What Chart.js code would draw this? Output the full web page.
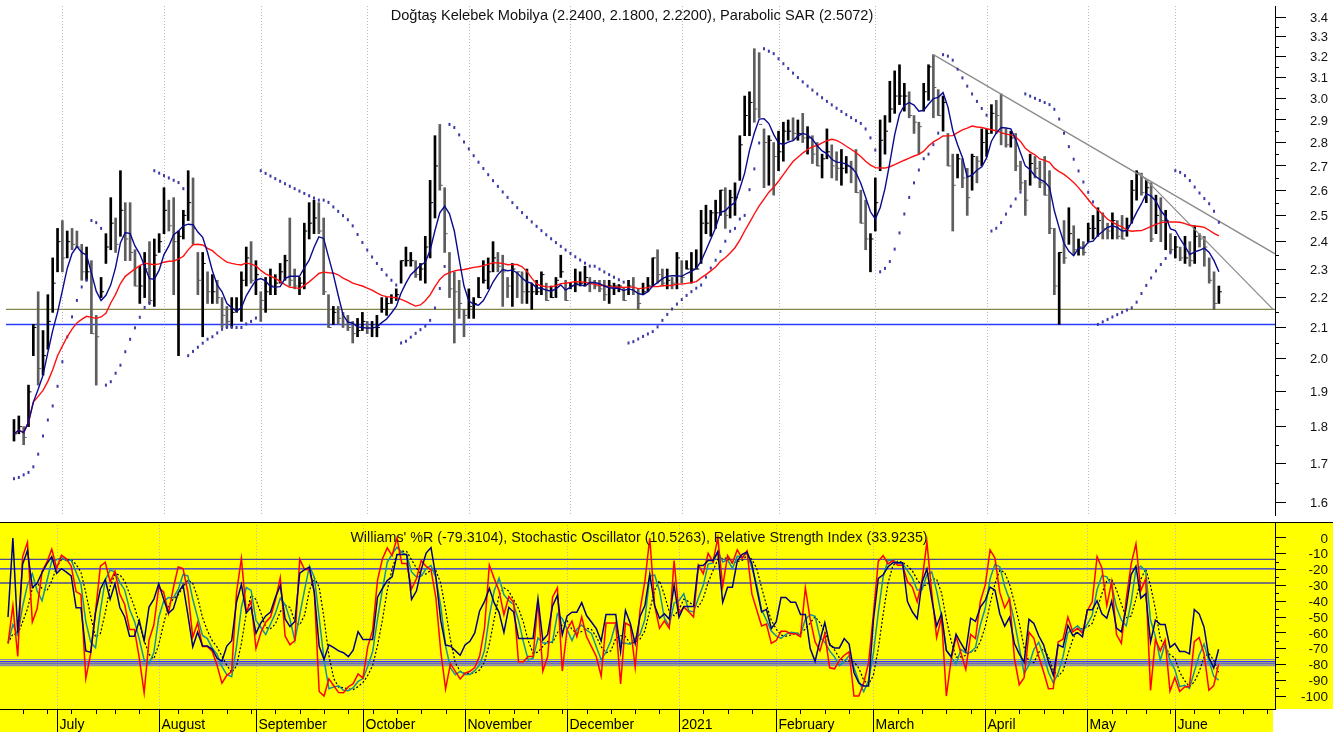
<!DOCTYPE html>
<html>
<head>
<meta charset="utf-8">
<script src="https://cdn.jsdelivr.net/npm/chart.js@4.4.1/dist/chart.umd.min.js"></script>
<style>
  html, body { margin: 0; padding: 0; background: #fff; }
  #wrap { position: relative; width: 1341px; height: 736px; overflow: hidden; }
  canvas { position: absolute; left: 0; display: block; }
  #priceChart { top: 0; }
  #oscChart { top: 521px; }
</style>
</head>
<body>
<div id="wrap">
  <canvas id="priceChart" width="1341" height="521"></canvas>
  <canvas id="oscChart" width="1341" height="215"></canvas>
</div>
<script>
"use strict";

// Daily bars, 17 Jun 2020 .. 14 Jun 2021
const HIGHS = [
  1.82,1.83,1.80,1.92,2.11,2.22,2.09,2.21,2.34,2.45, 2.48,2.44,2.45,2.44,2.39,2.38,2.33,2.14,2.27,2.43,
  2.57,2.49,2.68,2.55,2.55,2.37,2.31,2.36,2.40,2.41, 2.43,2.61,2.56,2.57,2.44,2.52,2.68,2.65,2.36,2.36,
  2.29,2.28,2.26,2.20,2.17,2.20,2.20,2.29,2.38,2.40, 2.33,2.22,2.27,2.30,2.28,2.32,2.35,2.49,2.30,2.27,
  2.47,2.55,2.56,2.55,2.49,2.21,2.17,2.17,2.15,2.14, 2.12,2.13,2.15,2.12,2.12,2.14,2.20,2.20,2.21,2.23,
  2.33,2.38,2.36,2.33,2.32,2.42,2.64,2.83,2.88,2.61, 2.36,2.29,2.26,2.16,2.23,2.20,2.27,2.33,2.34,2.40,
  2.36,2.35,2.27,2.32,2.29,2.29,2.30,2.25,2.26,2.29, 2.25,2.24,2.27,2.35,2.26,2.25,2.30,2.29,2.31,2.27,
  2.26,2.26,2.26,2.26,2.25,2.245,2.235,2.26,2.27,2.23, 2.25,2.27,2.34,2.37,2.30,2.30,2.27,2.36,2.33,2.33,
  2.36,2.37,2.52,2.54,2.52,2.56,2.60,2.61,2.60,2.63, 2.83,3.01,3.03,3.24,3.22,2.86,2.83,2.80,2.85,2.89,
  2.90,2.91,2.90,2.93,2.87,2.83,2.80,2.75,2.86,2.79, 2.76,2.77,2.74,2.72,2.77,2.60,2.56,2.43,2.65,2.90,
  2.92,3.08,3.13,3.16,3.07,3.03,2.92,2.89,3.07,3.16, 3.21,3.04,3.01,2.84,2.75,2.75,2.73,2.69,2.75,2.74,
  2.86,2.86,2.97,2.99,3.02,2.86,2.85,2.84,2.72,2.64, 2.75,2.74,2.72,2.74,2.68,2.45,2.36,2.48,2.53,2.46,
  2.41,2.40,2.47,2.50,2.53,2.51,2.47,2.51,2.48,2.50, 2.49,2.64,2.68,2.67,2.64,2.63,2.58,2.57,2.52,2.43,
  2.42,2.38,2.42,2.40,2.46,2.43,2.42,2.34,2.29,2.24
];
const LOWS = [
  1.76,1.78,1.75,1.80,2.01,1.92,1.95,2.03,2.15,2.29, 2.29,2.34,2.37,2.38,2.26,2.26,2.08,1.92,2.20,2.32,
  2.37,2.36,2.42,2.33,2.33,2.24,2.18,2.20,2.18,2.17, 2.36,2.43,2.44,2.21,2.01,2.41,2.48,2.39,2.21,2.07,
  2.18,2.18,2.18,2.10,2.10,2.10,2.15,2.12,2.24,2.25, 2.21,2.12,2.15,2.21,2.21,2.25,2.26,2.24,2.23,2.21,
  2.23,2.41,2.43,2.43,2.21,2.10,2.11,2.11,2.10,2.09, 2.05,2.07,2.09,2.08,2.07,2.07,2.15,2.14,2.18,2.19,
  2.25,2.31,2.31,2.27,2.26,2.25,2.34,2.49,2.60,2.36, 2.20,2.05,2.13,2.07,2.13,2.13,2.20,2.25,2.23,2.29,
  2.29,2.17,2.20,2.17,2.20,2.18,2.18,2.16,2.21,2.21, 2.19,2.20,2.20,2.27,2.19,2.23,2.22,2.24,2.24,2.22,
  2.23,2.22,2.19,2.18,2.21,2.22,2.19,2.21,2.21,2.16, 2.21,2.22,2.24,2.25,2.24,2.23,2.23,2.23,2.25,2.30,
  2.25,2.30,2.32,2.43,2.42,2.45,2.50,2.45,2.49,2.50, 2.64,2.83,2.83,2.89,2.91,2.61,2.62,2.58,2.68,2.72,
  2.81,2.81,2.81,2.80,2.75,2.71,2.70,2.65,2.73,2.65, 2.64,2.62,2.67,2.63,2.59,2.47,2.37,2.29,2.44,2.68,
  2.75,2.89,2.93,2.97,2.94,2.91,2.84,2.75,2.94,2.99, 2.91,2.92,2.85,2.70,2.44,2.65,2.61,2.50,2.60,2.63,
  2.70,2.74,2.84,2.84,2.79,2.78,2.78,2.68,2.60,2.50, 2.62,2.65,2.61,2.58,2.43,2.21,2.11,2.32,2.39,2.35,
  2.35,2.35,2.40,2.41,2.42,2.41,2.41,2.41,2.41,2.41, 2.42,2.47,2.56,2.58,2.55,2.40,2.43,2.40,2.37,2.36,
  2.34,2.33,2.32,2.31,2.32,2.38,2.31,2.25,2.16,2.18
];
const CLOSES = [
  1.78,1.80,1.77,1.90,2.10,1.97,2.01,2.12,2.25,2.40, 2.34,2.40,2.39,2.38,2.29,2.29,2.08,2.07,2.22,2.38,
  2.47,2.39,2.52,2.41,2.36,2.24,2.24,2.30,2.19,2.35, 2.40,2.52,2.46,2.40,2.42,2.50,2.55,2.45,2.26,2.32,
  2.22,2.22,2.20,2.14,2.12,2.15,2.16,2.26,2.34,2.26, 2.28,2.19,2.22,2.24,2.25,2.29,2.33,2.26,2.24,2.25,
  2.44,2.47,2.49,2.44,2.22,2.10,2.15,2.13,2.11,2.10, 2.08,2.09,2.12,2.10,2.10,2.10,2.16,2.18,2.20,2.21,
  2.33,2.33,2.33,2.28,2.30,2.38,2.55,2.70,2.62,2.43, 2.23,2.22,2.18,2.14,2.17,2.18,2.20,2.26,2.29,2.34,
  2.31,2.29,2.24,2.30,2.29,2.22,2.22,2.22,2.22,2.28, 2.19,2.20,2.26,2.29,2.19,2.24,2.25,2.25,2.27,2.25,
  2.24,2.23,2.21,2.24,2.24,2.24,2.19,2.24,2.22,2.18, 2.22,2.24,2.34,2.28,2.25,2.26,2.25,2.34,2.27,2.30,
  2.30,2.30,2.47,2.47,2.51,2.51,2.60,2.50,2.57,2.57, 2.79,2.92,2.98,2.95,2.88,2.80,2.81,2.74,2.76,2.85,
  2.85,2.84,2.84,2.82,2.82,2.75,2.70,2.73,2.76,2.70, 2.69,2.69,2.70,2.69,2.59,2.47,2.41,2.41,2.55,2.81,
  2.85,2.95,3.01,3.01,3.01,2.92,2.89,2.87,3.03,3.15, 3.05,2.92,2.98,2.70,2.62,2.73,2.65,2.57,2.74,2.72,
  2.80,2.84,2.93,2.92,2.84,2.79,2.82,2.70,2.63,2.56, 2.71,2.69,2.63,2.58,2.45,2.24,2.36,2.34,2.43,2.37,
  2.38,2.36,2.45,2.45,2.48,2.45,2.44,2.48,2.42,2.41, 2.46,2.60,2.67,2.59,2.61,2.41,2.50,2.48,2.48,2.37,
  2.38,2.34,2.34,2.33,2.42,2.41,2.38,2.26,2.18,2.22
];

// Trading calendar (axis runs a few sessions past the last bar)
const FIRST_DAY = "2020-06-17";
const CALENDAR_DAYS = 262;
const HOLIDAYS = ["2020-07-15", "2020-07-31", "2020-08-03", "2020-10-29", "2021-01-01",
                  "2021-04-23", "2021-05-13", "2021-05-14", "2021-05-19"];
const MONTH_LABELS = ["2021", "February", "March", "April", "May", "June", "July",
                      "August", "September", "October", "November", "December"];

// Axis ticks
const PRICE_TICKS = [1.6, 1.7, 1.8, 1.9, 2.0, 2.1, 2.2, 2.3, 2.4, 2.5, 2.6, 2.7, 2.8, 2.9, 3.0, 3.1, 3.2, 3.3, 3.4];
const OSC_TICKS = [0, -10, -20, -30, -40, -50, -60, -70, -80, -90, -100];

// Horizontal price levels and trend lines
const PRICE_LEVELS = [2.16, 2.11];
const PRICE_LEVEL_COLORS = ["#86864a", "#2a3cff"];
const TREND_START_X = [190, 232.6];
const TREND_START_Y = [3.21, 2.67];
const TREND_END_X = [260.6, 260.2];
const TREND_END_Y = [2.355, 2.16];

// Oscillator reference lines
const OSC_LEVELS = [-13.5, -19.5, -28.5, -77, -78.3, -79.6, -80.8];
const OSC_LEVEL_COLORS = ["#4b4b96", "#2424ff", "#4b4b96", "#8c8cb4", "#3a3aff", "#3a3aff", "#8c8cb4"];

// Indicator settings
const MA_FAST = 5;
const MA_SLOW = 20;
const WPR_PERIOD = 10;
const RSI_PERIOD = 5;
const STOCH_SMOOTH = 3;
const SAR_START = 1.66, SAR_STEP = 0.02, SAR_MAX = 0.2;

// visible index range of the x axis
const X_MIN = -1.65, X_MAX = 260.6;
const LABEL_RIGHT = 1328;

const FONT = "'Liberation Sans', Arial, sans-serif";

// ---- helpers ----
function buildTradingDays(count) {
  const days = [];
  const d = new Date(FIRST_DAY + "T00:00:00Z");
  while (days.length < count) {
    const wd = d.getUTCDay();
    const iso = d.toISOString().slice(0, 10);
    if (wd !== 0 && wd !== 6 && !HOLIDAYS.includes(iso)) days.push(new Date(d));
    d.setUTCDate(d.getUTCDate() + 1);
  }
  return days;
}

function sma(values, n) {
  return values.map((_, i) => {
    const win = values.slice(Math.max(0, i - n + 1), i + 1);
    return win.reduce((s, v) => s + v, 0) / win.length;
  });
}

function percentR(n) {
  return CLOSES.map((c, i) => {
    const from = Math.max(0, i - n + 1);
    const hh = Math.max(...HIGHS.slice(from, i + 1));
    const ll = Math.min(...LOWS.slice(from, i + 1));
    return hh === ll ? -50 : -100 * (hh - c) / (hh - ll);
  });
}

// Wilder RSI
function rsi(n) {
  let gain = 0, loss = 0;
  return CLOSES.map((c, i) => {
    if (i === 0) return 50;
    const ch = c - CLOSES[i - 1];
    const k = Math.min(i, n);
    gain = (gain * (k - 1) + Math.max(ch, 0)) / k;
    loss = (loss * (k - 1) + Math.max(-ch, 0)) / k;
    return loss === 0 ? 100 : 100 - 100 / (1 + gain / loss);
  });
}

function parabolicSar() {
  const out = [SAR_START];
  let up = true, af = SAR_STEP, ep = HIGHS[0], s = SAR_START;
  for (let i = 1; i < HIGHS.length; i++) {
    s = s + af * (ep - s);
    const j = Math.max(0, i - 2);
    if (up) {
      s = Math.min(s, LOWS[i - 1], LOWS[j]);
      if (LOWS[i] < s) { up = false; s = ep; ep = LOWS[i]; af = SAR_STEP; }
      else if (HIGHS[i] > ep) { ep = HIGHS[i]; af = Math.min(af + SAR_STEP, SAR_MAX); }
    } else {
      s = Math.max(s, HIGHS[i - 1], HIGHS[j]);
      if (HIGHS[i] > s) { up = true; s = ep; ep = HIGHS[i]; af = SAR_STEP; }
      else if (LOWS[i] < ep) { ep = LOWS[i]; af = Math.min(af + SAR_STEP, SAR_MAX); }
    }
    out.push(s);
  }
  return out;
}

const toPoints = arr => arr.map((v, i) => ({ x: i, y: v }));
const hline = v => [{ x: X_MIN, y: v }, { x: X_MAX, y: v }];

const days = buildTradingDays(CALENDAR_DAYS);
const monthStarts = [];
const weekStarts = [];
days.forEach((d, i) => {
  if (i === 0) return;
  if (d.getUTCMonth() !== days[i - 1].getUTCMonth()) monthStarts.push(i);
  else if (d.getUTCDay() < days[i - 1].getUTCDay()) weekStarts.push(i);
});

const barColors = CLOSES.map((c, i) => (i === 0 || c >= CLOSES[i - 1]) ? "#000000" : "#5e5e5e");

// indicators derived from the bars
const maFast = sma(CLOSES, MA_FAST);
const maSlow = sma(CLOSES, MA_SLOW);
const sar = parabolicSar();
const wpr = percentR(WPR_PERIOD);
const rsiLine = rsi(RSI_PERIOD).map(v => v - 100);
const slowK = sma(wpr.map(v => v + 100), STOCH_SMOOTH);
const slowD = sma(slowK, STOCH_SMOOTH);

// fixed-size right axis, no extra label padding
function fixAxis(width) {
  return scale => {
    scale.width = width;
    scale.paddingTop = 0;
    scale.paddingBottom = 0;
  };
}

function drawMonthGrid(chart) {
  const { ctx, chartArea, scales } = chart;
  ctx.save();
  ctx.strokeStyle = "#b8b8b8";
  ctx.lineWidth = 1;
  ctx.setLineDash([1, 2]);
  monthStarts.forEach(i => {
    const x = Math.round(scales.x.getPixelForValue(i)) + 0.5;
    if (x > chartArea.right) return;
    ctx.beginPath();
    ctx.moveTo(x, chartArea.top);
    ctx.lineTo(x, chartArea.bottom);
    ctx.stroke();
  });
  ctx.restore();
}

// short ticks between labels + right-aligned value labels
function drawValueAxis(chart, ticks, minorTicks, fontSize, fmt) {
  const { ctx, chartArea, scales } = chart;
  ctx.save();
  ctx.strokeStyle = "#000";
  ctx.lineWidth = 1;
  minorTicks.forEach(v => {
    const y = Math.round(scales.y.getPixelForValue(v)) + 0.5;
    ctx.beginPath();
    ctx.moveTo(chartArea.right, y);
    ctx.lineTo(chartArea.right + 4, y);
    ctx.stroke();
  });
  ctx.fillStyle = "#111";
  ctx.font = fontSize + "px " + FONT;
  ctx.textAlign = "right";
  ctx.textBaseline = "middle";
  ticks.forEach(v => ctx.fillText(fmt(v), LABEL_RIGHT, scales.y.getPixelForValue(v) + 1));
  ctx.restore();
}

// ---- price panel ----
const pricePlugin = {
  id: "priceDecor",
  beforeDatasetsDraw: chart => drawMonthGrid(chart),
  afterDraw: chart => {
    const ctx = chart.ctx;
    drawValueAxis(chart, PRICE_TICKS, PRICE_TICKS.slice(1).map(v => v - 0.05), 13, v => v.toFixed(1));
    ctx.save();
    ctx.fillStyle = "#111";
    ctx.font = "14.6px " + FONT;
    ctx.textAlign = "center";
    ctx.textBaseline = "middle";
    ctx.fillText("Doğtaş Kelebek Mobilya (2.2400, 2.1800, 2.2200), Parabolic SAR (2.5072)", 632, 16);
    ctx.restore();
  }
};

new Chart(document.getElementById("priceChart"), {
  type: "bar",
  data: {
    datasets: [
      { type: "line", data: toPoints(maFast), borderColor: "#0a0a8c", borderWidth: 1.4, pointRadius: 0 },
      { type: "line", data: toPoints(maSlow), borderColor: "#ff1010", borderWidth: 1.4, pointRadius: 0 },
      { type: "scatter", data: toPoints(sar), pointStyle: "line", rotation: 90, pointRadius: 1.5,
        borderColor: "#3b3ba6", borderWidth: 2 },
      ...TREND_START_X.map((x0, k) => ({
        type: "line",
        data: [{ x: x0, y: TREND_START_Y[k] }, { x: TREND_END_X[k], y: TREND_END_Y[k] }],
        borderColor: "#8c8c8c", borderWidth: 1.3, pointRadius: 0
      })),
      { type: "scatter", data: toPoints(CLOSES), pointStyle: "dash", pointRadius: 3,
        borderColor: barColors, borderWidth: 1 },
      { type: "bar", data: CLOSES.map((_, i) => ({ x: i, y: [LOWS[i], HIGHS[i]] })),
        backgroundColor: barColors, barThickness: 2, grouped: false },
      ...PRICE_LEVELS.map((v, k) => ({
        type: "line", data: hline(v), borderColor: PRICE_LEVEL_COLORS[k],
        borderWidth: k === 1 ? 1.6 : 1.3, pointRadius: 0
      }))
    ]
  },
  options: {
    responsive: false,
    animation: false,
    devicePixelRatio: 1,
    layout: { padding: 0 },
    plugins: { legend: { display: false }, tooltip: { enabled: false } },
    scales: {
      x: { type: "linear", min: X_MIN, max: X_MAX, offset: false, display: false },
      y: {
        type: "logarithmic",
        position: "right",
        min: 1.5688,
        max: 3.4625,
        afterBuildTicks: scale => { scale.ticks = PRICE_TICKS.map(v => ({ value: v })); },
        afterFit: fixAxis(66),
        ticks: { display: false },
        grid: { drawOnChartArea: false, tickLength: 11, color: "#000" },
        border: { color: "#000", width: 1 }
      }
    }
  },
  plugins: [pricePlugin]
});

// ---- oscillator panel ----
const oscPlugin = {
  id: "oscDecor",
  beforeDraw: chart => {
    const { ctx, chartArea } = chart;
    ctx.save();
    ctx.fillStyle = "#ffff00";
    ctx.fillRect(0, chartArea.top, 1333, chartArea.bottom - chartArea.top);
    ctx.fillRect(0, chartArea.bottom, chartArea.right - 2, 23);
    ctx.restore();
  },
  beforeDatasetsDraw: chart => drawMonthGrid(chart),
  afterDraw: chart => {
    const { ctx, chartArea, scales } = chart;
    const bottom = chartArea.bottom;
    drawValueAxis(chart, OSC_TICKS, OSC_TICKS.slice(1).map(v => v + 5), 13.5, v => String(v));
    ctx.save();
    ctx.strokeStyle = "#000";
    ctx.lineWidth = 1;
    // panel top edge and time axis line
    ctx.beginPath();
    ctx.moveTo(0, chartArea.top + 0.5);
    ctx.lineTo(1333, chartArea.top + 0.5);
    ctx.moveTo(0, bottom + 0.5);
    ctx.lineTo(chartArea.right, bottom + 0.5);
    ctx.stroke();
    // weekly ticks
    weekStarts.forEach(i => {
      const x = Math.round(scales.x.getPixelForValue(i)) + 0.5;
      if (x > chartArea.right) return;
      ctx.beginPath();
      ctx.moveTo(x, bottom);
      ctx.lineTo(x, bottom + 5);
      ctx.stroke();
    });
    // month separators and labels
    ctx.fillStyle = "#000";
    ctx.font = "14px " + FONT;
    ctx.textAlign = "left";
    ctx.textBaseline = "alphabetic";
    monthStarts.forEach(i => {
      const x = Math.round(scales.x.getPixelForValue(i)) + 0.5;
      if (x > chartArea.right) return;
      ctx.beginPath();
      ctx.moveTo(x, bottom);
      ctx.lineTo(x, bottom + 23);
      ctx.stroke();
      ctx.fillText(MONTH_LABELS[days[i].getUTCMonth()], x + 2, bottom + 20);
    });
    ctx.fillStyle = "#111";
    ctx.font = "14.3px " + FONT;
    ctx.textAlign = "center";
    ctx.textBaseline = "middle";
    ctx.fillText("Williams' %R (-79.3104), Stochastic Oscillator (10.5263), Relative Strength Index (33.9235)",
                 639, chartArea.top + 16);
    ctx.restore();
  }
};

new Chart(document.getElementById("oscChart"), {
  type: "line",
  data: {
    datasets: [
      { data: toPoints(rsiLine), borderColor: "#000080", borderWidth: 1.5, pointRadius: 0 },
      { data: toPoints(wpr), borderColor: "#ff0000", borderWidth: 1.5, pointRadius: 0 },
      { data: toPoints(slowK.map(v => v - 100)), borderColor: "#16909c", borderWidth: 1.5, pointRadius: 0 },
      { data: toPoints(slowD.map(v => v - 100)), borderColor: "#000000", borderWidth: 1.2,
        borderDash: [2, 2], pointRadius: 0 },
      ...OSC_LEVELS.map((v, k) => ({
        data: hline(v), borderColor: OSC_LEVEL_COLORS[k], borderWidth: 1.3, pointRadius: 0
      }))
    ]
  },
  options: {
    responsive: false,
    animation: false,
    devicePixelRatio: 1,
    layout: { padding: { top: 1, bottom: 27, left: 0, right: 0 } },
    plugins: { legend: { display: false }, tooltip: { enabled: false } },
    scales: {
      x: { type: "linear", min: X_MIN, max: X_MAX, display: false },
      y: {
        type: "linear",
        position: "right",
        min: -108.2,
        max: 10.1,
        afterBuildTicks: scale => { scale.ticks = OSC_TICKS.map(v => ({ value: v })); },
        afterFit: fixAxis(66),
        ticks: { display: false },
        grid: { drawOnChartArea: false, tickLength: 11, color: "#000" },
        border: { color: "#000", width: 1 }
      }
    }
  },
  plugins: [oscPlugin]
});
</script>
</body>
</html>
